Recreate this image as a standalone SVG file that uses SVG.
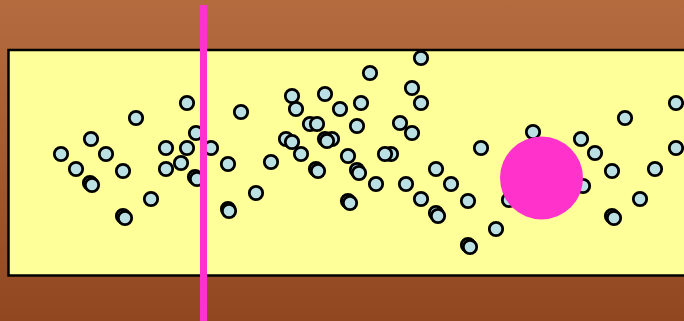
<svg xmlns="http://www.w3.org/2000/svg" width="684" height="321" viewBox="0 0 684 321">
<defs>
<linearGradient id="bg" x1="0" y1="0" x2="0" y2="1">
<stop offset="0" stop-color="#B46C3F"/>
<stop offset="1" stop-color="#914821"/>
</linearGradient>
</defs>
<style>
.p{fill:#BBE0E4;stroke:#000;stroke-width:2.8}
.pink{fill:#FF33CC}
</style>
<rect x="0" y="0" width="684" height="321" fill="url(#bg)"/>
<rect x="8.5" y="50" width="690" height="225.5" fill="#FFFF99" stroke="#000" stroke-width="2.5"/>
<g id="particles">
<circle class="p" cx="61" cy="154" r="6.7"/>
<circle class="p" cx="76" cy="169" r="6.7"/>
<circle class="p" cx="91" cy="139" r="6.7"/>
<circle class="p" cx="90" cy="183" r="6.7"/>
<circle class="p" cx="92" cy="185" r="6.7"/>
<circle class="p" cx="106" cy="154" r="6.7"/>
<circle class="p" cx="123" cy="171" r="6.7"/>
<circle class="p" cx="123" cy="216" r="6.7"/>
<circle class="p" cx="125" cy="218" r="6.7"/>
<circle class="p" cx="136" cy="118" r="6.7"/>
<circle class="p" cx="151" cy="199" r="6.7"/>
<circle class="p" cx="166" cy="148" r="6.7"/>
<circle class="p" cx="166" cy="169" r="6.7"/>
<circle class="p" cx="181" cy="163" r="6.7"/>
<circle class="p" cx="187" cy="103" r="6.7"/>
<circle class="p" cx="187" cy="148" r="6.7"/>
<circle class="p" cx="196" cy="133" r="6.7"/>
<circle class="p" cx="195" cy="177" r="6.7"/>
<circle class="p" cx="197" cy="179" r="6.7"/>
<circle class="p" cx="211" cy="148" r="6.7"/>
<circle class="p" cx="228" cy="164" r="6.7"/>
<circle class="p" cx="228" cy="209" r="6.7"/>
<circle class="p" cx="229" cy="211" r="6.7"/>
<circle class="p" cx="241" cy="112" r="6.7"/>
<circle class="p" cx="256" cy="193" r="6.7"/>
<circle class="p" cx="271" cy="162" r="6.7"/>
<circle class="p" cx="286" cy="139" r="6.7"/>
<circle class="p" cx="292" cy="142" r="6.7"/>
<circle class="p" cx="292" cy="96" r="6.7"/>
<circle class="p" cx="296" cy="109" r="6.7"/>
<circle class="p" cx="301" cy="154" r="6.7"/>
<circle class="p" cx="310" cy="124" r="6.7"/>
<circle class="p" cx="317" cy="124" r="6.7"/>
<circle class="p" cx="316" cy="169" r="6.7"/>
<circle class="p" cx="318" cy="171" r="6.7"/>
<circle class="p" cx="325" cy="94" r="6.7"/>
<circle class="p" cx="332" cy="139" r="6.7"/>
<circle class="p" cx="325" cy="139" r="6.7"/>
<circle class="p" cx="327" cy="141" r="6.7"/>
<circle class="p" cx="340" cy="109" r="6.7"/>
<circle class="p" cx="348" cy="156" r="6.7"/>
<circle class="p" cx="348" cy="201" r="6.7"/>
<circle class="p" cx="350" cy="203" r="6.7"/>
<circle class="p" cx="357" cy="126" r="6.7"/>
<circle class="p" cx="357" cy="170" r="6.7"/>
<circle class="p" cx="359" cy="173" r="6.7"/>
<circle class="p" cx="361" cy="103" r="6.7"/>
<circle class="p" cx="370" cy="73" r="6.7"/>
<circle class="p" cx="376" cy="184" r="6.7"/>
<circle class="p" cx="391" cy="154" r="6.7"/>
<circle class="p" cx="385" cy="154" r="6.7"/>
<circle class="p" cx="400" cy="123" r="6.7"/>
<circle class="p" cx="406" cy="184" r="6.7"/>
<circle class="p" cx="412" cy="88" r="6.7"/>
<circle class="p" cx="412" cy="133" r="6.7"/>
<circle class="p" cx="421" cy="58" r="6.7"/>
<circle class="p" cx="421" cy="103" r="6.7"/>
<circle class="p" cx="421" cy="199" r="6.7"/>
<circle class="p" cx="436" cy="169" r="6.7"/>
<circle class="p" cx="436" cy="213" r="6.7"/>
<circle class="p" cx="438" cy="216" r="6.7"/>
<circle class="p" cx="451" cy="184" r="6.7"/>
<circle class="p" cx="468" cy="201" r="6.7"/>
<circle class="p" cx="468" cy="245" r="6.7"/>
<circle class="p" cx="470" cy="247" r="6.7"/>
<circle class="p" cx="481" cy="148" r="6.7"/>
<circle class="p" cx="496" cy="229" r="6.7"/>
<circle class="p" cx="509" cy="200" r="6.7"/>
<circle class="p" cx="533" cy="132" r="6.7"/>
<circle class="p" cx="581" cy="139" r="6.7"/>
<circle class="p" cx="583" cy="186" r="6.7"/>
<circle class="p" cx="595" cy="153" r="6.7"/>
<circle class="p" cx="612" cy="171" r="6.7"/>
<circle class="p" cx="612" cy="216" r="6.7"/>
<circle class="p" cx="614" cy="218" r="6.7"/>
<circle class="p" cx="625" cy="118" r="6.7"/>
<circle class="p" cx="640" cy="199" r="6.7"/>
<circle class="p" cx="655" cy="169" r="6.7"/>
<circle class="p" cx="676" cy="103" r="6.7"/>
<circle class="p" cx="676" cy="148" r="6.7"/>
</g>
<rect id="barrier" class="pink" x="200" y="5" width="7" height="316"/>
<circle id="big-particle" class="pink" cx="541.5" cy="178" r="41.5"/>
</svg>
